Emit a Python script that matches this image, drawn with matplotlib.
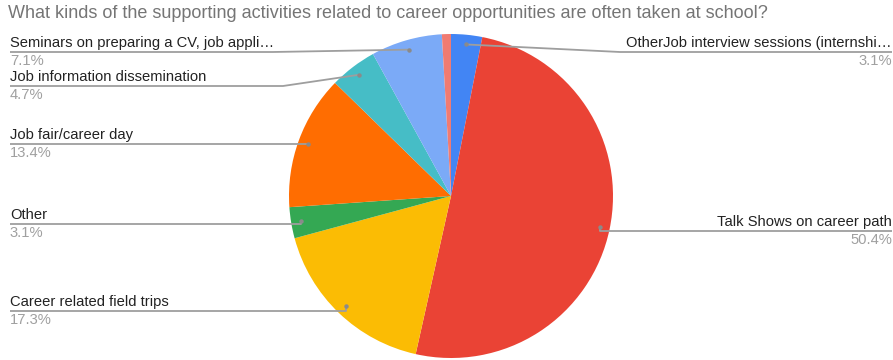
import numpy as np
import matplotlib.pyplot as plt

# slices, clockwise from 12 o'clock
names = ["OtherJob interview sessions (internshi\u2026", "Talk Shows on career path",
         "Career related field trips", "Other", "Job fair/career day",
         "Job information dissemination", "Seminars on preparing a CV, job appli\u2026", ""]
shares = [3.1, 50.4, 17.3, 3.1, 13.4, 4.7, 7.1, 0.9]
colors = ["#4285F4", "#EA4335", "#FBBC04", "#34A853", "#FF6D01",
          "#46BDC6", "#7BAAF7", "#F07B72"]
title = "What kinds of the supporting activities related to career opportunities are often taken at school?"

W, H = 893, 360
CX, CY, R = 451, 196, 162

# label placement in pixels: (line y, bend x) ; side from slice angle
label_pos = {
    0: (52, 620),
    1: (231, None),
    2: (311, None),
    3: (224, None),
    4: (144, None),
    5: (86, 283),
    6: (52, 273),
}

fig = plt.figure(figsize=(W / 100, H / 100), dpi=100)
ax = fig.add_axes([0, 0, 1, 1])

ax.pie(shares, colors=colors, startangle=90, counterclock=False,
       center=(CX, H - CY), radius=R, frame=True,
       wedgeprops=dict(linewidth=0))
ax.set_xlim(0, W)
ax.set_ylim(0, H)
ax.set_aspect("equal")
ax.axis("off")

font = "Liberation Sans"
fig.text(8 / W, 1 - 14 / H, title, fontsize=13, color="#757575",
         family=font, va="center", ha="left")

total = sum(shares)
cum = 0.0
line_c = "#9e9e9e"
for i, v in enumerate(shares):
    mid = (cum + v / 2) / total * 2 * np.pi
    cum += v
    if i not in label_pos:
        continue
    dx = CX + 0.94 * R * np.sin(mid)
    dy = CY - 0.94 * R * np.cos(mid)
    ly, bend = label_pos[i]
    if np.sin(mid) > 0:
        tx, ha = W - 1, "right"
    else:
        tx, ha = 10, "left"
    xs = [dx, bend if bend else dx, tx]
    ys = [dy, ly, ly]
    ax.plot(xs, [H - y for y in ys], color=line_c, lw=1.3, solid_capstyle="butt")
    ax.plot(dx, H - dy, "o", ms=3.2, color="#8a8a8a", mew=0)
    ax.text(tx, H - ly + 2, names[i], ha=ha, va="bottom", fontsize=10.6,
            color="#222222", family=font)
    ax.text(tx, H - ly - 2, f"{v:.1f}%", ha=ha, va="top", fontsize=10.6,
            color="#a0a0a0", family=font)

fig.savefig("out.png", dpi=100)
